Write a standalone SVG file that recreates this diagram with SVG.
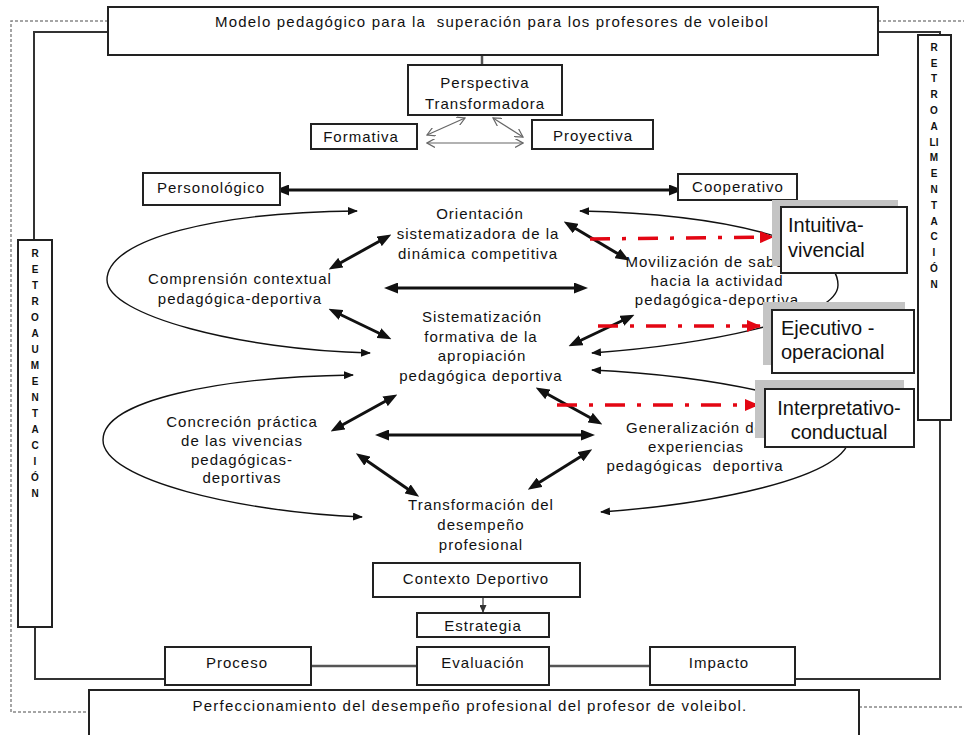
<svg xmlns="http://www.w3.org/2000/svg" width="964" height="735" viewBox="0 0 964 735">
<defs>
<style>
text{font-family:"Liberation Sans",Arial,sans-serif;fill:#111;}
.t{font-size:15px;letter-spacing:1px;text-anchor:middle;}
.w{letter-spacing:1.2px;}
.b{font-size:20px;}
.r{font-size:10px;font-weight:bold;text-anchor:middle;}
.box{fill:#fff;stroke:#222;stroke-width:2;}
.sh{fill:#c4c4c4;}
.frame{fill:none;stroke:#333;stroke-width:2;}
.dot{fill:none;stroke:#888;stroke-width:1.5;stroke-dasharray:3 2;}
.thick{fill:none;stroke:#111;stroke-width:3;marker-start:url(#ah);marker-end:url(#ah);}
.thin{fill:none;stroke:#111;stroke-width:1.4;marker-start:url(#sa);marker-end:url(#sa);}
.gray{fill:none;stroke:#666;stroke-width:1.2;marker-start:url(#oa);marker-end:url(#oa);}
.red{fill:none;stroke:#e30613;stroke-width:3.5;stroke-dasharray:20 12 4 12;marker-end:url(#ra);}
.link{fill:none;stroke:#555;stroke-width:2.5;}
</style>
<marker id="ah" markerUnits="userSpaceOnUse" markerWidth="14" markerHeight="11" refX="9" refY="5.5" orient="auto-start-reverse"><path d="M0,0 L14,5.5 L0,11 z" fill="#111"/></marker>
<marker id="sa" markerUnits="userSpaceOnUse" markerWidth="10" markerHeight="8" refX="9" refY="4" orient="auto-start-reverse"><path d="M0,0 L10,4 L0,8 z" fill="#111"/></marker>
<marker id="oa" markerUnits="userSpaceOnUse" markerWidth="9" markerHeight="9" refX="8" refY="4.5" orient="auto-start-reverse"><path d="M0,0 L8,4.5 L0,9" fill="none" stroke="#666" stroke-width="1.2"/></marker>
<marker id="ra" markerUnits="userSpaceOnUse" markerWidth="14" markerHeight="12" refX="13" refY="6" orient="auto"><path d="M0,0 L14,6 L0,12 z" fill="#e30613"/></marker>
<marker id="ka" markerUnits="userSpaceOnUse" markerWidth="8" markerHeight="7" refX="7" refY="3.5" orient="auto"><path d="M0,0 L8,3.5 L0,7 z" fill="#333"/></marker>
</defs>
<rect width="964" height="735" fill="#fff"/>

<g id="frame">
<path class="dot" d="M108,21 H11 V712 H89"/>
<path class="dot" d="M878,21 H964"/>
<path class="dot" d="M859,707 H964"/>
<path class="frame" d="M108,32 H34 V240"/>
<path class="frame" d="M35,627 V679 H165"/>
<path class="frame" d="M878,32 H940 V35"/>
<path class="frame" d="M940,420 V679 H795"/>
</g>

<g id="connectors">
<line class="link" x1="482" y1="55" x2="482" y2="65"/>
<line class="gray" x1="427" y1="135" x2="465" y2="118"/>
<line class="gray" x1="493" y1="118" x2="523" y2="137"/>
<line class="gray" x1="427" y1="143" x2="523" y2="143"/>
<line class="thick" x1="280" y1="190" x2="678" y2="190"/>
<line class="thick" x1="333" y1="267" x2="387" y2="237"/>
<line class="thick" x1="389" y1="288" x2="583" y2="288"/>
<line class="thick" x1="333" y1="311" x2="387" y2="337"/>
<line class="thick" x1="568" y1="224" x2="625" y2="258"/>
<line class="thick" x1="573" y1="344" x2="630" y2="317"/>
<line class="thick" x1="335" y1="429" x2="393" y2="397"/>
<line class="thick" x1="380" y1="435" x2="590" y2="435"/>
<line class="thick" x1="360" y1="456" x2="415" y2="494"/>
<line class="thick" x1="540" y1="390" x2="598" y2="422"/>
<line class="thick" x1="532" y1="487" x2="588" y2="452"/>
<path class="thin" d="M357,211 C220,212 107,238 107,280 C107,315 240,350 370,353"/>
<path class="thin" d="M353,375 C220,377 103,400 103,440 C103,480 240,512 362,517"/>
<path class="thin" d="M580,211 C720,214 838,240 838,285 C838,320 700,345 592,353"/>
<path class="thin" d="M592,370 C700,375 850,400 850,435 C850,480 700,505 601,512"/>
<line class="red" x1="590" y1="239" x2="773" y2="237"/>
<line class="red" x1="598" y1="326" x2="760" y2="326"/>
<line class="red" x1="557" y1="405" x2="758" y2="405"/>
<line x1="483" y1="597" x2="483" y2="612" stroke="#333" stroke-width="1.2" marker-end="url(#ka)"/>
<line class="link" x1="311" y1="666" x2="417" y2="666"/>
<line class="link" x1="549" y1="666" x2="650" y2="666"/>
</g>

<g id="titulo"><rect class="box" x="108" y="7" width="770" height="48"/><text class="t w" x="492" y="27">Modelo pedagógico para la&#160; superación para los profesores de voleibol</text></g>
<g id="retro-izq"><rect class="box" x="18" y="240" width="34" height="387"/>
<text class="r" x="35" y="257">R</text><text class="r" x="35" y="273">E</text><text class="r" x="35" y="289">T</text><text class="r" x="35" y="305">R</text><text class="r" x="35" y="321">O</text><text class="r" x="35" y="337">A</text><text class="r" x="35" y="353">U</text><text class="r" x="35" y="369">M</text><text class="r" x="35" y="385">E</text><text class="r" x="35" y="401">N</text><text class="r" x="35" y="417">T</text><text class="r" x="35" y="433">A</text><text class="r" x="35" y="449">C</text><text class="r" x="35" y="465">I</text><text class="r" x="35" y="481">Ó</text><text class="r" x="35" y="497">N</text></g>
<g id="retro-der"><rect class="box" x="918" y="35" width="33" height="385"/>
<text class="r" x="934" y="51">R</text><text class="r" x="934" y="67">E</text><text class="r" x="934" y="82">T</text><text class="r" x="934" y="98">R</text><text class="r" x="934" y="114">O</text><text class="r" x="934" y="130">A</text><text class="r" x="934" y="146">LI</text><text class="r" x="934" y="161">M</text><text class="r" x="934" y="177">E</text><text class="r" x="934" y="193">N</text><text class="r" x="934" y="209">T</text><text class="r" x="934" y="225">A</text><text class="r" x="934" y="240">C</text><text class="r" x="934" y="256">I</text><text class="r" x="934" y="272">Ó</text><text class="r" x="934" y="288">N</text></g>
<g id="perspectiva"><rect class="box" x="408" y="65" width="154" height="50"/><text class="t" x="485" y="88">Perspectiva</text><text class="t" x="485" y="109">Transformadora</text></g>
<g id="formativa"><rect class="box" x="311" y="124" width="106" height="25"/><text class="t" x="361" y="142">Formativa</text></g>
<g id="proyectiva"><rect class="box" x="532" y="120" width="121" height="29"/><text class="t" x="593" y="141">Proyectiva</text></g>
<g id="personologico"><rect class="box" x="143" y="173" width="137" height="32"/><text class="t" x="211" y="193">Personológico</text></g>
<g id="cooperativo"><rect class="box" x="678" y="174" width="119" height="26"/><text class="t" x="738" y="192">Cooperativo</text></g>
<g id="orientacion"><text class="t" x="480" y="219">Orientación</text><text class="t" x="478" y="239">sistematizadora de la</text><text class="t" x="478" y="259">dinámica competitiva</text></g>
<g id="comprension"><text class="t" x="240" y="284">Comprensión contextual</text><text class="t" x="240" y="304">pedagógica-deportiva</text></g>
<g id="sistematizacion"><text class="t" x="482" y="322">Sistematización</text><text class="t" x="481" y="342">formativa de la</text><text class="t" x="482" y="361">apropiación</text><text class="t" x="481" y="381">pedagógica deportiva</text></g>
<g id="movilizacion"><text class="t" x="717" y="267">Movilización de saberes</text><text class="t" x="717" y="286">hacia la actividad</text><text class="t" x="717" y="305">pedagógica-deportiva</text></g>
<g id="concrecion"><text class="t" x="242" y="427">Concreción práctica</text><text class="t" x="242" y="446">de las vivencias</text><text class="t" x="242" y="465">pedagógicas-</text><text class="t" x="242" y="483">deportivas</text></g>
<g id="generalizacion"><text class="t" x="695" y="433">Generalización de</text><text class="t" x="696" y="452">experiencias</text><text class="t" x="695" y="471">pedagógicas&#160; deportiva</text></g>
<g id="transformacion"><text class="t" x="481" y="510">Transformación del</text><text class="t" x="481" y="530">desempeño</text><text class="t" x="481" y="550">profesional</text></g>
<g id="intuitiva"><rect class="sh" x="772" y="200" width="126" height="66"/><rect class="box" x="781" y="207" width="126" height="66"/><text class="b" x="788" y="232">Intuitiva-</text><text class="b" x="788" y="257">vivencial</text></g>
<g id="ejecutivo"><rect class="sh" x="763" y="302" width="142" height="63"/><rect class="box" x="772" y="310" width="142" height="63"/><text class="b" x="781" y="335">Ejecutivo -</text><text class="b" x="781" y="359">operacional</text></g>
<g id="interpretativo"><rect class="sh" x="755" y="380" width="149" height="58"/><rect class="box" x="765" y="389" width="149" height="58"/><text class="b" x="839" y="415" text-anchor="middle">Interpretativo-</text><text class="b" x="839" y="439" text-anchor="middle">conductual</text></g>
<g id="contexto"><rect class="box" x="373" y="563" width="207" height="34"/><text class="t" x="476" y="584">Contexto Deportivo</text></g>
<g id="estrategia"><rect class="box" x="417" y="613" width="132" height="24"/><text class="t" x="483" y="631">Estrategia</text></g>
<g id="proceso"><rect class="box" x="165" y="647" width="146" height="38"/><text class="t" x="237" y="668">Proceso</text></g>
<g id="evaluacion"><rect class="box" x="417" y="647" width="132" height="38"/><text class="t" x="483" y="668">Evaluación</text></g>
<g id="impacto"><rect class="box" x="650" y="647" width="145" height="38"/><text class="t" x="719" y="668">Impacto</text></g>
<g id="perfeccionamiento"><rect class="box" x="89" y="690" width="770" height="60"/><text class="t w" x="470" y="711">Perfeccionamiento del desempeño profesional del profesor de voleibol.</text></g>
</svg>
